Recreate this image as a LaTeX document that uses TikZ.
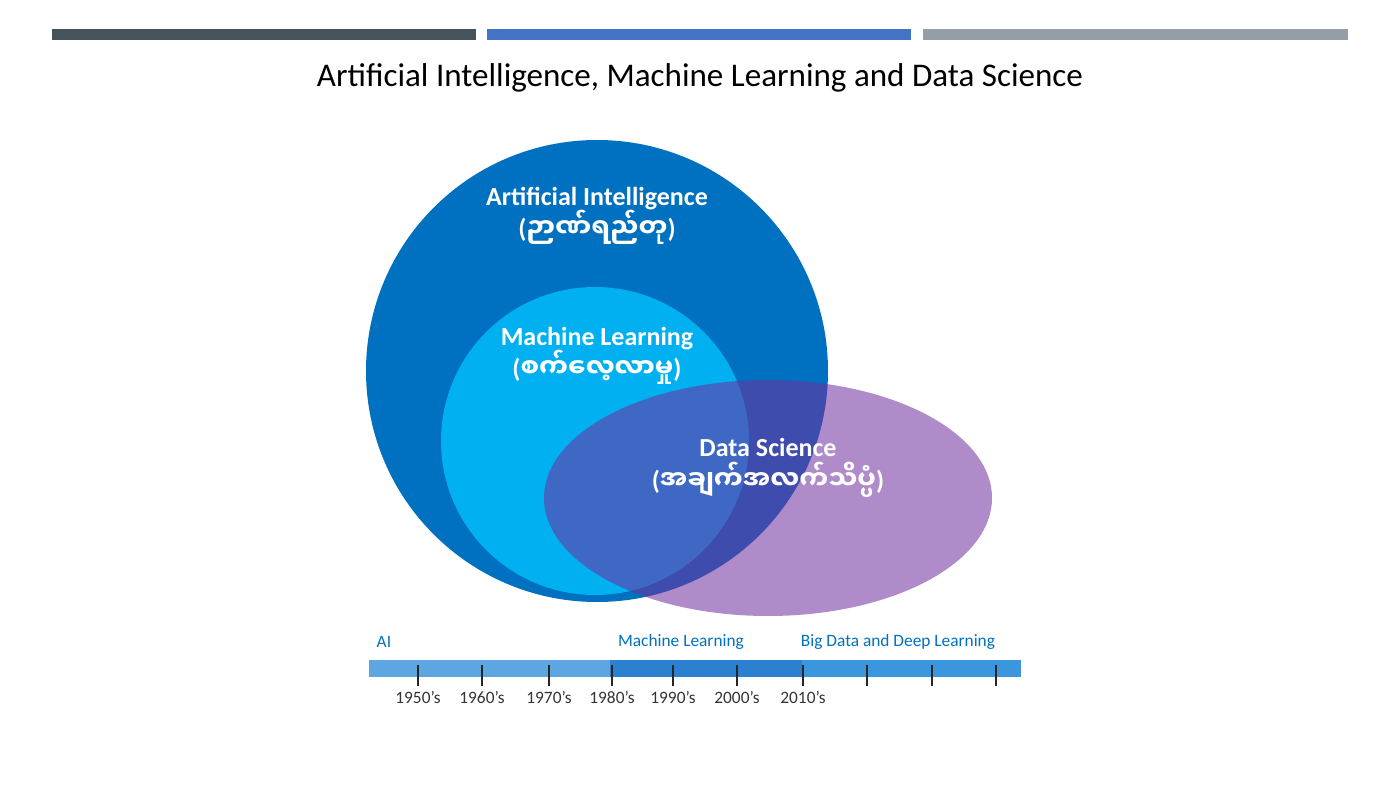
\documentclass[tikz,border=0pt]{standalone}
\usepackage{fontspec}
\setmainfont{Carlito}
\newfontfamily\mmfont[Script=Myanmar]{Noto Sans Myanmar UI}
\usetikzlibrary{positioning}

\definecolor{barslate}{HTML}{47535A}
\definecolor{barblue}{HTML}{4472C4}
\definecolor{bargray}{HTML}{959DA5}
\definecolor{aiblue}{HTML}{0070C0}
\definecolor{mlblue}{HTML}{00B0F0}
\definecolor{dspurple}{HTML}{7030A0}
\definecolor{segone}{HTML}{5EA6E2}
\definecolor{segtwo}{HTML}{2B80D0}
\definecolor{segthree}{HTML}{3A97DD}
\definecolor{yeartext}{HTML}{333333}

\begin{document}
\begin{tikzpicture}[x=0.75pt, y=-0.75pt,
  venn/.style={font=\fontsize{19.5}{24.5}\selectfont\bfseries, text=white, align=center},
  era/.style={font=\fontsize{13}{15}\selectfont, text=aiblue},
  year/.style={font=\fontsize{13}{15}\selectfont, text=yeartext},
  yeartick/.style={line width=2.2pt, black!85}]
\useasboundingbox (0,0) rectangle (1400,788);

% Top bars
\fill[barslate] (52,29) rectangle (476,40);
\fill[barblue] (487,29) rectangle (911,40);
\fill[bargray] (923,29) rectangle (1348,40);

% Title
\node[font=\fontsize{24.8}{28}\selectfont] (title) at (700,78)
  {Artificial Intelligence, Machine Learning and Data Science};

% Circles
\fill[aiblue] (597,371) circle [radius=231];
\fill[mlblue] (595,441) circle [radius=154];
\fill[dspurple, fill opacity=0.56] (768,498) ellipse [x radius=224, y radius=118];

\node[venn] (ai) at (597,216) {Artificial Intelligence\\({\mmfont ဉာဏ်ရည်တု})};
\node[venn] (ml) at (597,356) {Machine Learning\\({\mmfont စက်လေ့လာမှု})};
\node[venn] (ds) at (768,468) {Data Science\\({\mmfont အချက်အလက်သိပ္ပံ})};

% Timeline
\fill[segone] (369,660) rectangle (610,677);
\fill[segtwo] (610,660) rectangle (802,677);
\fill[segthree] (802,660) rectangle (1021,677);

\node[era, anchor=west] (eraai) at (372,642) {AI};
\node[era] (eraml) at (681,642) {Machine Learning};
\node[era] (erabig) at (898,642) {Big Data and Deep Learning};

\foreach \x/\yr in {418/1950, 482/1960, 549/1970, 612/1980, 673/1990, 737/2000, 803/2010} {
  \draw[yeartick] (\x,665) -- (\x,686);
  \node[year] (y\yr) at (\x,697) {\yr’s};
}
\foreach \x in {867,932,996}
  \draw[yeartick] (\x,665) -- (\x,686);
\end{tikzpicture}
\end{document}
